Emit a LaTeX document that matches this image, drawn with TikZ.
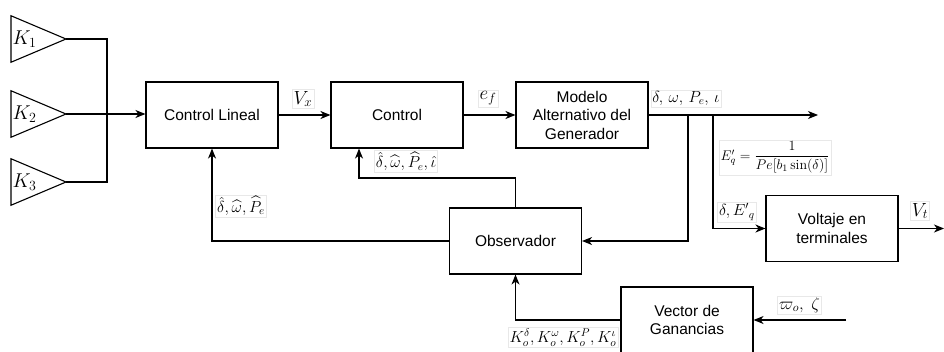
\RequirePackage{fix-cm}
\documentclass[tikz,border=0pt]{standalone}
\usepackage{amsmath}
\usepackage{fontspec}
\setsansfont{Liberation Sans}
\usetikzlibrary{arrows.meta,positioning,shapes.geometric}

\begin{document}
\begin{tikzpicture}[x=1pt,y=-1pt,line width=1.1pt,>={Stealth[length=10pt,width=8pt,inset=3pt]}]
\tikzstyle{block}=[draw,rectangle,minimum width=132pt,minimum height=66pt,align=center,inner sep=2pt,font=\sffamily\fontsize{15.5}{18.5}\selectfont]
\tikzstyle{gain}=[draw,isosceles triangle,isosceles triangle stretches,minimum width=46.5pt,minimum height=55pt,inner sep=0pt,outer sep=0pt]
\tikzstyle{gaintext}=[anchor=west,label distance=0pt,inner sep=1pt,font=\fontsize{20}{24}\selectfont]
\tikzstyle{sig}=[draw=gray!18,fill=white,line width=0.6pt,inner sep=1.5pt,font=\fontsize{16}{19}\selectfont]
\tikzstyle{bigsig}=[sig,font=\fontsize{19}{22}\selectfont]

\useasboundingbox (0,0) rectangle (944,351);

\node[block]		(cl) at (212,115)   {Control Lineal};
\node[block]		(ctl) [right of=cl,node distance=185pt] {Control};
\node[block]		(gen) [right of=ctl,node distance=185pt] {Modelo\\Alternativo del\\Generador};
\node[block]		(obs) [on grid,below right=126pt and 118.5pt of ctl] {Observador};
\node[block]		(vt) [on grid,below right=113.5pt and 250pt of gen] {Voltaje en\\terminales};
\node[block]		(vg) [on grid,below right=79pt and 171.5pt of obs] {Vector de\\Ganancias};

\node[gain,anchor=apex,label={[gaintext]lower side:$K_1$}]	(k1) at (66,39)  {};
\node[gain,anchor=apex,label={[gaintext]lower side:$K_2$}]	(k2) at (66,114) {};
\node[gain,anchor=apex,label={[gaintext]lower side:$K_3$}]	(k3) at (66,182) {};

\coordinate (bus) at (107,114);
\coordinate (out) at (818,115);
\coordinate (tap1) at (688,115);
\coordinate (tap2) at (713,115);
\coordinate (vtout) at (944,228.5);
\coordinate (fb) at (359,178);
\coordinate (wo) at (846,320);

% gains into the linear control
\draw (k1.apex) -| (bus) |- (k3.apex);
\draw[->] (k2.apex) -- (k2.apex -| cl.west);

% forward path
\draw[->] (cl) -- (ctl);
\draw[->] (ctl) -- (gen);
\draw[->] (gen) -- (out);
\draw[->] (tap1) |- (obs);
\draw[->] (tap2) |- (vt);
\draw[->] (vt) -- (vtout);

% estimates back
\draw[->] (obs.north) |- (fb) -- (fb |- ctl.south);
\draw[->] (obs.west) -| (cl.south);
\draw[->] (vg.west) -| (obs.south);
\draw[->] (wo) -- (vg.east);

% signal labels
\node[bigsig]	(vx) at (303,99)    {$V_x$};
\node[bigsig]	(ef) at (488,98.5)  {$e_f$};
\node[sig]	(y) at (686,98.5)   {$\delta,\, \omega,\, P_e,\, \iota$};
\node[sig,font=\fontsize{14}{17}\selectfont]	(eq) at (775,157.5) {$E'_q = \dfrac{1}{Pe[b_1\sin(\delta)]}$};
\node[sig]	(de) at (737,212)   {$\delta, {E'}_q$};
\node[bigsig]	(vtl) at (920,211)  {$V_t$};
\node[sig]	(xh) at (406,161.5) {$\hat{\delta}, \widehat{\omega}, \widehat{P}_e, \hat{\iota}$};
\node[sig]	(xh2) at (241,206)  {$\hat{\delta}, \widehat{\omega}, \widehat{P}_e$};
\node[sig]	(ko) at (563,337.5) {$K_o^\delta, K_o^\omega, K_o^P, K_o^\iota$};
\node[sig,font=\fontsize{17}{20}\selectfont]	(wz) at (799.5,305) {$\varpi_o,\; \zeta$};
\end{tikzpicture}
\end{document}
